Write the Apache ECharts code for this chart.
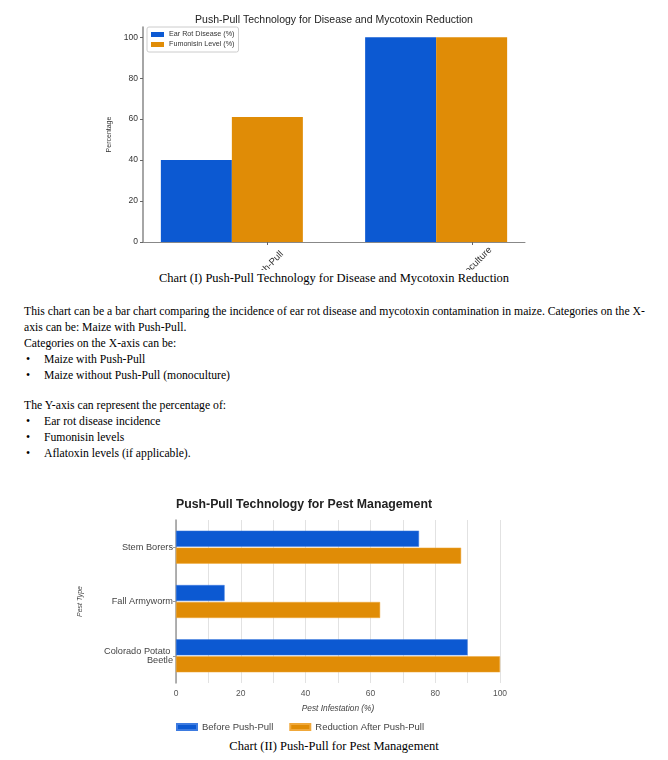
<!DOCTYPE html>
<html><head><meta charset="utf-8">
<script src="https://cdn.jsdelivr.net/npm/echarts@6/dist/echarts.min.js"></script>
<style>
html,body{margin:0;padding:0;background:#fff;width:668px;height:760px;overflow:hidden;}
#c1{position:absolute;left:0;top:0;width:668px;height:270px;}
#c2{position:absolute;left:0;top:488px;width:668px;height:247px;}
.cap{position:absolute;left:0;width:668px;text-align:center;font-family:"Liberation Serif","Times New Roman",serif;font-size:12.5px;color:#000;}
#txt{position:absolute;left:24px;top:304px;font-family:"Liberation Serif","Times New Roman",serif;font-size:11.7px;line-height:16px;color:#000;white-space:nowrap;}
#txt .b{position:relative;padding-left:20px;}
#txt .b:before{content:"\2022";position:absolute;left:2px;}
#txt .sp{height:14px;}
</style></head>
<body>
<div id="c1"></div>
<div class="cap" style="top:271px;">Chart (I) Push-Pull Technology for Disease and Mycotoxin Reduction</div>
<div id="txt">
<div>This chart can be a bar chart comparing the incidence of ear rot disease and mycotoxin contamination in maize. Categories on the X-</div>
<div>axis can be: Maize with Push-Pull.</div>
<div>Categories on the X-axis can be:</div>
<div class="b">Maize with Push-Pull</div>
<div class="b">Maize without Push-Pull (monoculture)</div>
<div class="sp"></div>
<div>The Y-axis can represent the percentage of:</div>
<div class="b">Ear rot disease incidence</div>
<div class="b">Fumonisin levels</div>
<div class="b">Aflatoxin levels (if applicable).</div>
</div>
<div id="c2"></div>
<div class="cap" style="top:739px;">Chart (II) Push-Pull for Pest Management</div>
<script>
// Chart I data
const diseaseCategories = ["Push-Pull", "Monoculture"];
const earRotDisease = [40, 100];
const fumonisinLevel = [61, 100];
const diseaseYTicks = [0, 20, 40, 60, 80, 100];

// Chart II data
const pestCategories = ["Stem Borers", "Fall Armyworm", "Colorado Potato Beetle"];
const beforePushPull = [75, 15, 90];
const reductionAfter = [88, 63, 100];

const BLUE = "#0c59d2";
const ORANGE = "#e08c06";
const SANS = "Liberation Sans, Arial, sans-serif";

const c1 = echarts.init(document.getElementById('c1'), null, {renderer: 'canvas'});
const idx = diseaseCategories.map((_, i) => i);
const TICK_OFF = 0.175;
c1.setOption({
  animation: false,
  title: {text: "Push-Pull Technology for Disease and Mycotoxin Reduction", left: 'center', top: 10,
    textStyle: {fontFamily: SANS, fontSize: 10.5, fontWeight: 'normal', color: '#222'}},
  legend: {orient: 'vertical', left: 147, top: 27, itemWidth: 13, itemHeight: 5, itemGap: 3, icon: 'rect',
    padding: [4, 4, 4, 4], borderColor: '#ccc', borderWidth: 1, borderRadius: 2,
    textStyle: {fontFamily: SANS, fontSize: 7.2, color: '#333'},
    data: ["Ear Rot Disease (%)", "Fumonisin Level (%)"]},
  grid: {left: 143, right: 143, top: 27, bottom: 28, containLabel: false, outerBoundsMode: 'none'},
  xAxis: {type: 'value', min: -0.435, max: 1.435,
    axisLine: {show: true, onZero: false, lineStyle: {color: '#888', width: 1}},
    splitLine: {show: false},
    axisTick: {show: true, length: 3, lineStyle: {color: '#666'}, customValues: idx.map(i => i + TICK_OFF)},
    axisLabel: {show: true, rotate: 45, align: 'center', verticalAlign: 'middle', margin: 25,
      fontFamily: SANS, fontSize: 9.5, color: '#333',
      customValues: idx.map(i => i + TICK_OFF),
      formatter: v => diseaseCategories[Math.round(v - TICK_OFF)] || ''}},
  yAxis: {type: 'value', min: 0, max: 105,
    name: 'Percentage', nameLocation: 'middle', nameRotate: 90, nameGap: 19,
    nameTextStyle: {fontFamily: SANS, fontSize: 7, color: '#333'},
    axisLine: {show: true, onZero: false, lineStyle: {color: '#888', width: 1.5}},
    splitLine: {show: false},
    axisTick: {show: true, length: 3, lineStyle: {color: '#666'}, customValues: diseaseYTicks},
    axisLabel: {fontFamily: SANS, fontSize: 8.5, color: '#333', margin: 5, customValues: diseaseYTicks}},
  series: [
    {name: "Ear Rot Disease (%)", type: 'bar', barWidth: 71, barGap: '0%', itemStyle: {color: BLUE},
      data: earRotDisease.map((v, i) => [i, v])},
    {name: "Fumonisin Level (%)", type: 'bar', barWidth: 71, barGap: '0%', itemStyle: {color: ORANGE},
      data: fumonisinLevel.map((v, i) => [i, v])}
  ]
});

const c2 = echarts.init(document.getElementById('c2'), null, {renderer: 'canvas'});
c2.setOption({
  animation: false,
  title: {text: "Push-Pull Technology for Pest Management", left: 171, top: 6,
    textStyle: {fontFamily: SANS, fontSize: 12.3, fontWeight: 'bold', color: '#222'}},
  legend: {left: 176, top: 234, padding: 0, itemWidth: 20, itemHeight: 6, itemGap: 16, icon: 'rect',
    textStyle: {fontFamily: SANS, fontSize: 9.5, color: '#444'},
    data: ["Before Push-Pull", "Reduction After Push-Pull"]},
  grid: {left: 176, right: 168, top: 32, bottom: 52, containLabel: false, outerBoundsMode: 'none'},
  xAxis: {type: 'value', min: 0, max: 100, interval: 10,
    name: 'Pest Infestation (%)', nameLocation: 'middle', nameGap: 22,
    nameTextStyle: {fontFamily: SANS, fontSize: 8.3, fontStyle: 'italic', color: '#444'},
    axisLine: {show: false}, axisTick: {show: false},
    splitLine: {show: true, lineStyle: {color: '#e2e2e2', width: 1}},
    axisLabel: {fontFamily: SANS, fontSize: 8.5, color: '#555', margin: 6,
      formatter: v => (v % 20 === 0 ? String(v) : '')}},
  yAxis: {type: 'category', inverse: true, data: pestCategories,
    name: 'Pest Type', nameLocation: 'middle', nameRotate: 90, nameGap: 92,
    nameTextStyle: {fontFamily: SANS, fontSize: 7, fontStyle: 'italic', color: '#444'},
    axisLine: {show: true, lineStyle: {color: '#999', width: 1.5}},
    axisTick: {show: true, alignWithLabel: true, length: 3, lineStyle: {color: '#999'}},
    axisLabel: {fontFamily: SANS, fontSize: 9.2, color: '#444', margin: 3, width: 75, overflow: 'break', lineHeight: 9.5}},
  series: [
    {name: "Before Push-Pull", type: 'bar', barWidth: 16, barGap: '6%',
      itemStyle: {color: BLUE, borderColor: '#3d7be0', borderWidth: 0.5}, data: beforePushPull},
    {name: "Reduction After Push-Pull", type: 'bar', barWidth: 16, barGap: '6%',
      itemStyle: {color: ORANGE, borderColor: '#f0a83a', borderWidth: 0.5}, data: reductionAfter}
  ]
});
</script>
</body></html>
